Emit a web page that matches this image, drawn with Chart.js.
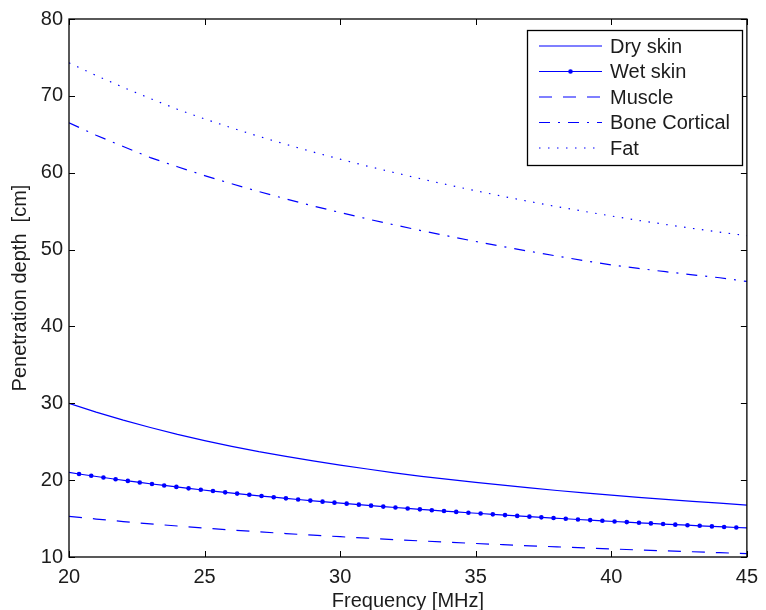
<!DOCTYPE html>
<html>
<head>
<meta charset="utf-8">
<title>Penetration depth vs frequency</title>
<script src="https://cdn.jsdelivr.net/npm/chart.js@4"></script>
<style>
  html, body { margin: 0; padding: 0; background: #fff; }
  #chart { display: block; }
</style>
</head>
<body>
<canvas id="chart" width="766" height="610"></canvas>
<script>
// Frequency grid (MHz) shared by the plain curves
const freq = [20, 21, 22, 23, 24, 25, 26, 27, 28, 29, 30, 31, 32, 33, 34, 35, 36, 37, 38, 39, 40, 41, 42, 43, 44, 45];

// Penetration depth (cm) per tissue
const drySkin     = [30.0, 28.85, 27.8, 26.85, 25.95, 25.15, 24.4, 23.7, 23.1, 22.5, 21.95, 21.45, 20.95, 20.5, 20.1, 19.7, 19.35, 19.0, 18.65, 18.35, 18.05, 17.75, 17.5, 17.25, 17.0, 16.75];
const muscle      = [15.28, 14.94, 14.61, 14.31, 14.03, 13.76, 13.51, 13.28, 13.05, 12.84, 12.64, 12.45, 12.26, 12.09, 11.92, 11.76, 11.61, 11.46, 11.32, 11.18, 11.05, 10.92, 10.8, 10.68, 10.56, 10.45];
const boneCortical = [66.5, 64.88, 63.41, 61.97, 60.77, 59.63, 58.56, 57.55, 56.59, 55.68, 54.82, 53.99, 53.21, 52.46, 51.74, 51.05, 50.39, 49.76, 49.15, 48.56, 47.99, 47.55, 47.12, 46.72, 46.33, 45.85];
const fat         = [74.3, 72.65, 71.1, 69.65, 68.25, 67.0, 65.83, 64.73, 63.69, 62.7, 61.76, 60.86, 60.01, 59.19, 58.4, 57.65, 56.93, 56.24, 55.58, 54.97, 54.37, 53.8, 53.27, 52.75, 52.27, 51.8];

// Wet skin is sampled finer; first and last entries are the curve ends (no marker)
const wetFreq = [20, 20.37, 20.82, 21.27, 21.72, 22.17, 22.61, 23.06, 23.51, 23.96, 24.41, 24.86, 25.31, 25.76, 26.20, 26.65, 27.10, 27.55, 28.00, 28.45, 28.90, 29.35, 29.79, 30.24, 30.69, 31.14, 31.59, 32.04, 32.49, 32.94, 33.38, 33.83, 34.28, 34.73, 35.18, 35.63, 36.08, 36.53, 36.98, 37.42, 37.87, 38.32, 38.77, 39.22, 39.67, 40.12, 40.57, 41.02, 41.46, 41.91, 42.36, 42.81, 43.26, 43.71, 44.16, 44.61, 45];
const wetSkin = [21.00, 20.80, 20.57, 20.34, 20.12, 19.90, 19.70, 19.50, 19.31, 19.12, 18.93, 18.75, 18.58, 18.41, 18.25, 18.09, 17.93, 17.78, 17.63, 17.48, 17.34, 17.20, 17.07, 16.94, 16.81, 16.68, 16.56, 16.44, 16.32, 16.20, 16.09, 15.98, 15.87, 15.76, 15.66, 15.55, 15.45, 15.35, 15.25, 15.16, 15.07, 14.98, 14.88, 14.80, 14.71, 14.62, 14.54, 14.45, 14.37, 14.29, 14.21, 14.14, 14.06, 13.98, 13.91, 13.84, 13.78];

const xTicks = [20, 25, 30, 35, 40, 45];
const yTicks = [10, 20, 30, 40, 50, 60, 70, 80];

const BLUE = 'rgb(0, 0, 255)';
const TEXT = '#1c1c1c';
const FONT = "'Liberation Sans', Arial, Helvetica, sans-serif";

const pts = (xs, ys) => xs.map((x, i) => ({ x, y: ys[i] }));

// line styles: [label, dash, hasMarker]
const series = [
  { label: 'Dry skin',      data: pts(freq, drySkin),     dash: [] },
  { label: 'Wet skin',      data: pts(wetFreq, wetSkin),  dash: [], marker: true },
  { label: 'Muscle',        data: pts(freq, muscle),      dash: [13, 11] },
  { label: 'Bone Cortical', data: pts(freq, boneCortical), dash: [11, 8, 2, 8] },
  { label: 'Fat',           data: pts(freq, fat),         dash: [1.5, 7.5] },
];

const datasets = series.map(s => ({
  label: s.label,
  data: s.data,
  borderColor: BLUE,
  backgroundColor: BLUE,
  borderWidth: 1.2,
  borderDash: s.dash,
  tension: 0,
  pointRadius: s.marker ? (ctx => (ctx.dataIndex === 0 || ctx.dataIndex === s.data.length - 1) ? 0 : 2.3) : 0,
  pointBorderWidth: 0,
  fill: false,
}));

// Box, inward ticks, axis titles and legend in the MATLAB look
const matlabFrame = {
  id: 'matlabFrame',
  afterDatasetsDraw(chart) {
    const { ctx, chartArea: a, scales } = chart;
    ctx.save();
    ctx.strokeStyle = '#000';
    ctx.lineWidth = 1.3;
    ctx.setLineDash([]);
    ctx.strokeRect(a.left, a.top, a.right - a.left, a.bottom - a.top);

    const tl = 6;
    ctx.beginPath();
    xTicks.forEach(v => {
      const px = Math.round(scales.x.getPixelForValue(v)) + 0.5;
      ctx.moveTo(px, a.bottom); ctx.lineTo(px, a.bottom - tl);
      ctx.moveTo(px, a.top); ctx.lineTo(px, a.top + tl);
    });
    yTicks.forEach(v => {
      const py = Math.round(scales.y.getPixelForValue(v)) + 0.5;
      ctx.moveTo(a.left, py); ctx.lineTo(a.left + tl, py);
      ctx.moveTo(a.right, py); ctx.lineTo(a.right - tl, py);
    });
    ctx.lineWidth = 1;
    ctx.stroke();

    // axis titles
    ctx.fillStyle = TEXT;
    ctx.font = '20px ' + FONT;
    ctx.textAlign = 'center';
    ctx.textBaseline = 'alphabetic';
    ctx.fillText('Frequency [MHz]', (a.left + a.right) / 2, 607);
    ctx.save();
    ctx.translate(26, (a.top + a.bottom) / 2);
    ctx.rotate(-Math.PI / 2);
    ctx.fillText('Penetration depth  [cm]', 0, 0);
    ctx.restore();

    // legend
    const lx = 527, ly = 30, lw = 215, lh = 135;
    ctx.fillStyle = '#fff';
    ctx.fillRect(lx, ly, lw, lh);
    ctx.strokeStyle = '#000';
    ctx.lineWidth = 1.3;
    ctx.strokeRect(lx + 0.5, ly + 0.5, lw, lh);
    series.forEach((s, i) => {
      const y = 46 + i * 25.5;
      ctx.strokeStyle = BLUE;
      ctx.lineWidth = 1.2;
      ctx.setLineDash(s.dash);
      ctx.beginPath();
      ctx.moveTo(539, y); ctx.lineTo(602, y);
      ctx.stroke();
      ctx.setLineDash([]);
      if (s.marker) {
        ctx.fillStyle = BLUE;
        ctx.beginPath();
        ctx.arc(570.5, y, 2.3, 0, Math.PI * 2);
        ctx.fill();
      }
      ctx.fillStyle = TEXT;
      ctx.textAlign = 'left';
      ctx.textBaseline = 'middle';
      ctx.fillText(s.label, 610, y + 1);
    });
    ctx.restore();
  }
};

Chart.defaults.font.family = FONT;
Chart.defaults.font.size = 20;
Chart.defaults.color = TEXT;

new Chart(document.getElementById('chart'), {
  type: 'line',
  data: { datasets },
  options: {
    responsive: false,
    animation: false,
    layout: { padding: { top: 19, right: 14, left: 0, bottom: 0 } },
    plugins: { legend: { display: false }, tooltip: { enabled: false } },
    scales: {
      x: {
        type: 'linear',
        min: 20, max: 45,
        afterFit: s => { s.height = 53; },
        afterBuildTicks: s => { s.ticks = xTicks.map(v => ({ value: v })); },
        grid: { display: false, drawTicks: false },
        border: { display: false },
        ticks: { padding: 8, maxRotation: 0, autoSkip: false },
      },
      y: {
        min: 10, max: 80,
        afterFit: s => { s.width = 69; },
        afterBuildTicks: s => { s.ticks = yTicks.map(v => ({ value: v })); },
        grid: { display: false, drawTicks: false },
        border: { display: false },
        ticks: { padding: 6, autoSkip: false },
      },
    },
  },
  plugins: [matlabFrame],
});
</script>
</body>
</html>
